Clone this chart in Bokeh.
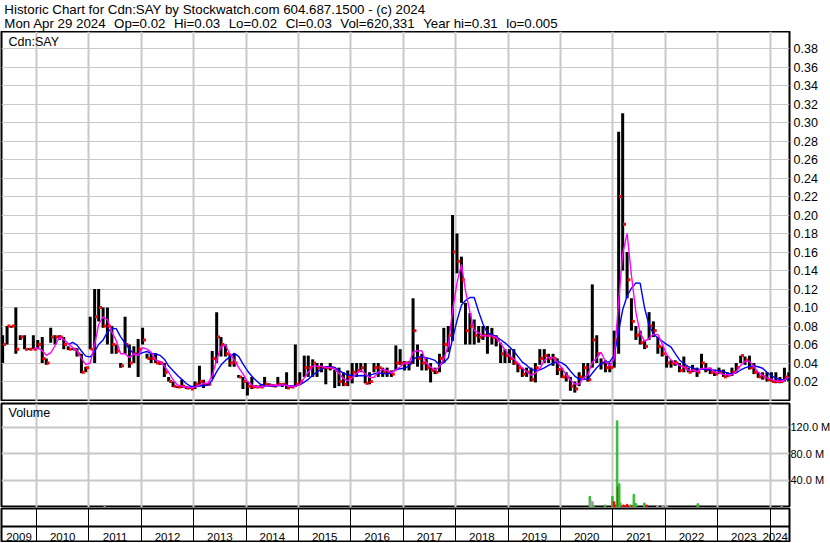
import numpy as np
import pandas as pd
from bokeh.plotting import figure
from bokeh.layouts import column
from bokeh.models import Range1d, FixedTicker, PrintfTickFormatter, Span, ColumnDataSource, Label
from bokeh.embed import file_html
from bokeh.resources import INLINE
from bokeh.core.properties import value
from bokeh.transform import dodge

FONT = "Liberation Sans"
GAP = "\u00a0\u200a"

title_line1 = "Historic Chart for Cdn:SAY by Stockwatch.com 604.687.1500 - (c) 2024"
title_line2 = ("Mon Apr 29 2024  Op=0.02  Hi=0.03  Lo=0.02  Cl=0.03  "
               "Vol=620,331  Year hi=0.31  lo=0.005")
symbol = "Cdn:SAY"
volume_title = "Volume"

first_month = "2009-05-10"
high = [0.07, 0.08, 0.08, 0.10, 0.07, 0.07, 0.056, 0.07, 0.065, 0.068,
        0.045, 0.078, 0.07, 0.07, 0.068, 0.058, 0.056, 0.056, 0.05, 0.036,
        0.09, 0.12, 0.12, 0.10, 0.10, 0.08, 0.06, 0.04, 0.09, 0.06,
        0.058, 0.066, 0.078, 0.05, 0.05, 0.05, 0.042, 0.04, 0.025, 0.02,
        0.015, 0.022, 0.015, 0.014, 0.02, 0.037, 0.022, 0.018, 0.053, 0.095,
        0.068, 0.06, 0.05, 0.05, 0.027, 0.025, 0.02, 0.025, 0.016, 0.016,
        0.025, 0.018, 0.017, 0.025, 0.018, 0.03, 0.015, 0.06, 0.03, 0.048,
        0.048, 0.044, 0.04, 0.04, 0.036, 0.04, 0.033, 0.035, 0.03, 0.032,
        0.04, 0.04, 0.04, 0.04, 0.03, 0.04, 0.04, 0.035, 0.035, 0.032,
        0.059, 0.055, 0.042, 0.042, 0.11, 0.06, 0.05, 0.045, 0.04, 0.035,
        0.05, 0.078, 0.08, 0.20, 0.18, 0.155, 0.105, 0.094, 0.087, 0.08,
        0.08, 0.08, 0.078, 0.07, 0.062, 0.055, 0.055, 0.055, 0.04, 0.035,
        0.035, 0.035, 0.04, 0.055, 0.055, 0.05, 0.05, 0.045, 0.035, 0.03,
        0.025, 0.02, 0.03, 0.04, 0.04, 0.125, 0.07, 0.045, 0.043, 0.04,
        0.075, 0.29, 0.31, 0.16, 0.11, 0.08, 0.075, 0.065, 0.095, 0.085,
        0.068, 0.058, 0.048, 0.043, 0.043, 0.04, 0.047, 0.035, 0.038, 0.035,
        0.05, 0.04, 0.035, 0.033, 0.035, 0.033, 0.03, 0.035, 0.04, 0.048,
        0.047, 0.048, 0.04, 0.03, 0.03, 0.03, 0.03, 0.03, 0.025, 0.035,
        0.03]
low = [0.04, 0.06, 0.078, 0.05, 0.065, 0.055, 0.054, 0.055, 0.055, 0.04,
       0.038, 0.062, 0.06, 0.065, 0.055, 0.054, 0.054, 0.047, 0.029, 0.03,
       0.055, 0.04, 0.085, 0.078, 0.06, 0.05, 0.05, 0.035, 0.05, 0.035,
       0.04, 0.025, 0.06, 0.045, 0.04, 0.04, 0.038, 0.025, 0.02, 0.014,
       0.013, 0.013, 0.012, 0.012, 0.012, 0.015, 0.013, 0.016, 0.023, 0.04,
       0.047, 0.047, 0.036, 0.036, 0.024, 0.012, 0.005, 0.012, 0.013, 0.013,
       0.014, 0.015, 0.014, 0.016, 0.014, 0.012, 0.013, 0.014, 0.017, 0.025,
       0.025, 0.025, 0.025, 0.03, 0.017, 0.032, 0.013, 0.015, 0.015, 0.015,
       0.018, 0.025, 0.03, 0.018, 0.017, 0.03, 0.025, 0.025, 0.025, 0.025,
       0.032, 0.038, 0.032, 0.032, 0.039, 0.036, 0.032, 0.032, 0.019, 0.028,
       0.03, 0.04, 0.052, 0.064, 0.137, 0.105, 0.06, 0.06, 0.06, 0.062,
       0.065, 0.05, 0.06, 0.058, 0.04, 0.04, 0.04, 0.038, 0.03, 0.025,
       0.025, 0.02, 0.019, 0.038, 0.04, 0.04, 0.037, 0.027, 0.024, 0.02,
       0.01, 0.008, 0.015, 0.022, 0.02, 0.035, 0.04, 0.033, 0.03, 0.03,
       0.035, 0.05, 0.14, 0.11, 0.075, 0.065, 0.06, 0.055, 0.065, 0.068,
       0.05, 0.047, 0.035, 0.035, 0.037, 0.03, 0.03, 0.03, 0.03, 0.025,
       0.033, 0.03, 0.028, 0.026, 0.028, 0.025, 0.025, 0.026, 0.03, 0.04,
       0.038, 0.033, 0.028, 0.024, 0.022, 0.02, 0.02, 0.018, 0.018, 0.02,
       0.02]
close = [0.06, 0.08, 0.08, 0.055, 0.068, 0.055, 0.055, 0.055, 0.06, 0.045,
         0.04, 0.068, 0.068, 0.068, 0.06, 0.055, 0.055, 0.05, 0.03, 0.035,
         0.055, 0.09, 0.10, 0.08, 0.08, 0.06, 0.053, 0.037, 0.06, 0.04,
         0.05, 0.055, 0.065, 0.045, 0.045, 0.04, 0.04, 0.03, 0.02, 0.015,
         0.014, 0.015, 0.013, 0.012, 0.017, 0.02, 0.017, 0.017, 0.045, 0.068,
         0.06, 0.05, 0.04, 0.04, 0.025, 0.02, 0.015, 0.014, 0.014, 0.014,
         0.017, 0.016, 0.015, 0.017, 0.017, 0.013, 0.014, 0.017, 0.02, 0.035,
         0.035, 0.04, 0.035, 0.035, 0.035, 0.035, 0.032, 0.02, 0.017, 0.025,
         0.03, 0.032, 0.035, 0.018, 0.02, 0.035, 0.035, 0.03, 0.03, 0.028,
         0.04, 0.04, 0.04, 0.04, 0.075, 0.045, 0.04, 0.035, 0.032, 0.03,
         0.045, 0.06, 0.07, 0.16, 0.15, 0.13, 0.075, 0.08, 0.07, 0.068,
         0.07, 0.07, 0.068, 0.065, 0.05, 0.048, 0.045, 0.04, 0.035, 0.028,
         0.03, 0.022, 0.035, 0.045, 0.048, 0.045, 0.045, 0.033, 0.025, 0.025,
         0.015, 0.012, 0.025, 0.035, 0.022, 0.065, 0.05, 0.04, 0.035, 0.035,
         0.065, 0.22, 0.19, 0.13, 0.085, 0.07, 0.062, 0.058, 0.08, 0.075,
         0.058, 0.05, 0.04, 0.04, 0.04, 0.032, 0.035, 0.03, 0.032, 0.03,
         0.04, 0.033, 0.03, 0.028, 0.03, 0.025, 0.027, 0.03, 0.035, 0.048,
         0.043, 0.035, 0.03, 0.025, 0.025, 0.022, 0.02, 0.02, 0.02, 0.025,
         0.03]

price_ticks = [0.02, 0.04, 0.06, 0.08, 0.10, 0.12, 0.14, 0.16, 0.18, 0.20,
               0.22, 0.24, 0.26, 0.28, 0.30, 0.32, 0.34, 0.36, 0.38]

# volume (millions), sparse weekly readings
vol_time = [2011.30, 2020.56, 2020.58, 2020.61, 2020.63, 2020.85, 2020.99, 2021.02,
            2021.05, 2021.08, 2021.10, 2021.12, 2021.14, 2021.20, 2021.27, 2021.33,
            2021.36, 2021.40, 2021.44, 2021.60, 2021.64, 2021.85, 2021.95, 2022.03,
            2022.62, 2024.22]
vol_mill = [0.6, 16.0, 9.0, 8.0, 2.0, 3.0, 16.0, 8.0,
            3.0, 130.0, 30.0, 35.0, 6.0, 3.0, 4.0, 3.0,
            2.0, 19.0, 5.0, 6.0, 3.0, 2.0, 2.0, 1.5,
            5.0, 0.6]
vol_kind = ["flat", "up", "flat", "flat", "up", "up", "up", "down",
            "down", "up", "down", "up", "up", "down", "down", "up",
            "down", "up", "up", "up", "down", "flat", "flat", "flat",
            "up", "flat"]
vol_ticks = [40, 80, 120]

years = list(range(2009, 2025))
x_start, x_end = 2009.332, 2024.370
fast_window, slow_window = 3, 6
fast_from, slow_from = 7, 15

# ---------------------------------------------------------------
dates = pd.date_range(first_month, periods=len(close), freq=pd.DateOffset(months=1))
t = dates.year + (dates.dayofyear - 1) / np.where(dates.is_leap_year, 366.0, 365.0)
t = np.asarray(t, dtype=float)
cl = pd.Series(close)
ma_fast = cl.rolling(fast_window).mean().to_numpy()
ma_slow = cl.rolling(slow_window).mean().to_numpy()
ma_fast[:fast_from] = np.nan
ma_slow[:slow_from] = np.nan

src = ColumnDataSource(dict(t=t, high=high, low=low, close=close, fast=ma_fast, slow=ma_slow))

FW = 788
LEFT = 1
GRID = "#c8c8c8"
bounds = [float(y) for y in years[1:]]
mids = [(x_start + 2010) / 2] + [y + 0.5 for y in years[1:-1]]

xr = Range1d(x_start, x_end)


def keep_spaces(s):
    return s.replace("  ", " " + GAP)


# header ---------------------------------------------------------
head = figure(width=830, height=31, x_range=Range1d(0, 830), y_range=Range1d(0, 31),
              toolbar_location=None, output_backend="svg", min_border=0,
              x_axis_location=None, y_axis_location=None, outline_line_color=None)
head.grid.visible = False
head.text(x=[3, 3], y=[22, 8], text=[keep_spaces(title_line1), keep_spaces(title_line2)],
          text_font=value(FONT), text_font_size="13.3px", text_color="black",
          text_baseline="alphabetic")

# price panel ----------------------------------------------------
p = figure(frame_width=FW, frame_height=370, x_range=xr, y_range=Range1d(-0.0016, 0.3984),
           toolbar_location=None, output_backend="svg", x_axis_location=None,
           y_axis_location="right", min_border_left=LEFT, min_border_right=41,
           min_border_top=0, min_border_bottom=0,
           outline_line_color="black", outline_line_width=2)
p.xgrid.ticker = FixedTicker(ticks=bounds)
p.xgrid.grid_line_color = GRID
p.xgrid.grid_line_width = 2
p.ygrid.ticker = FixedTicker(ticks=price_ticks)
p.ygrid.grid_line_color = GRID
p.ygrid.grid_line_width = 1
ya = p.yaxis[0]
ya.ticker = FixedTicker(ticks=price_ticks)
ya.formatter = PrintfTickFormatter(format="%.2f")
ya.major_tick_line_color = None
ya.major_tick_out = 0
ya.major_tick_in = 0
ya.minor_tick_line_color = None
ya.axis_line_color = None
ya.major_label_text_font = FONT
ya.major_label_text_font_size = "12.5px"
ya.major_label_text_color = "black"
ya.major_label_standoff = 4

p.segment(x0="t", y0="low", x1="t", y1="high", source=src, line_color="black", line_width=3)
p.scatter(x=dodge("t", 0.035, range=xr), y="close", source=src, marker="square",
          size=3, line_color=None, fill_color="red")
p.line(x="t", y="slow", source=src, line_color="#0000ff", line_width=1.4)
p.line(x="t", y="fast", source=src, line_color="#ff00ff", line_width=1.4)
p.add_layout(Label(x=x_start + 7 / 52.4, y=0.3795, text=symbol, text_font=FONT,
                   text_font_size="12.5px", text_color="black"))

# volume panel ---------------------------------------------------
vsrc = ColumnDataSource(dict(t=vol_time, v=vol_mill,
                             c=[{"up": "#33bb33", "down": "#ff0000", "flat": "#a0a0a0"}[k] for k in vol_kind]))
v = figure(frame_width=FW, frame_height=104, x_range=xr, y_range=Range1d(-0.75, 156.2),
           toolbar_location=None, output_backend="svg", x_axis_location=None,
           y_axis_location="right", min_border_left=LEFT, min_border_right=41,
           min_border_top=2, min_border_bottom=0,
           outline_line_color="black", outline_line_width=2)
v.xgrid.ticker = FixedTicker(ticks=bounds)
v.xgrid.grid_line_color = GRID
v.xgrid.grid_line_width = 2
v.ygrid.ticker = FixedTicker(ticks=vol_ticks)
v.ygrid.grid_line_color = GRID
v.ygrid.grid_line_width = 2
va = v.yaxis[0]
va.ticker = FixedTicker(ticks=vol_ticks)
va.major_label_overrides = {k: f"{k:.1f} M" for k in vol_ticks}
va.major_tick_line_color = None
va.major_tick_out = 0
va.major_tick_in = 0
va.minor_tick_line_color = None
va.axis_line_color = None
va.major_label_text_font = FONT
va.major_label_text_font_size = "11px"
va.major_label_text_color = "black"
va.major_label_standoff = 1
v.vbar(x="t", top="v", bottom=0, width=0.03, source=vsrc, fill_color="c", line_color="c")
v.add_layout(Label(x=x_start + 7 / 52.4, y=131, text=volume_title, text_font=FONT,
                   text_font_size="12.5px", text_color="black"))

# year strip -----------------------------------------------------
ys = figure(frame_width=FW, frame_height=34, x_range=xr, y_range=Range1d(0, 34),
            toolbar_location=None, output_backend="svg", y_axis_location=None,
            x_axis_location=None, min_border_left=LEFT, min_border_right=41,
            min_border_top=1, min_border_bottom=0,
            outline_line_color="black", outline_line_width=2)
ys.ygrid.visible = False
ys.xgrid.ticker = FixedTicker(ticks=bounds)
ys.xgrid.grid_line_color = "black"
ys.xgrid.grid_line_width = 1
ys.add_layout(Span(location=16, dimension="width", line_color="black", line_width=2))
ys.text(x=mids, y=[5.5] * len(mids), text=[str(y) for y in years[:-1]],
        text_font=value(FONT), text_font_size="11.5px", text_color="black",
        text_align="center", text_baseline="alphabetic")
ys.text(x=[x_end - 1.5 / 52.4], y=[5.5], text=[str(years[-1])],
        text_font=value(FONT), text_font_size="11.5px", text_color="black",
        text_align="right", text_baseline="alphabetic")

layout = column(head, p, v, ys, spacing=0)
html = file_html(layout, INLINE, title="Cdn:SAY")
html = html.replace("<head>", "<head><style>html,body{margin:0;padding:0;overflow:hidden;}</style>", 1)
open("out.html", "w").write(html)
